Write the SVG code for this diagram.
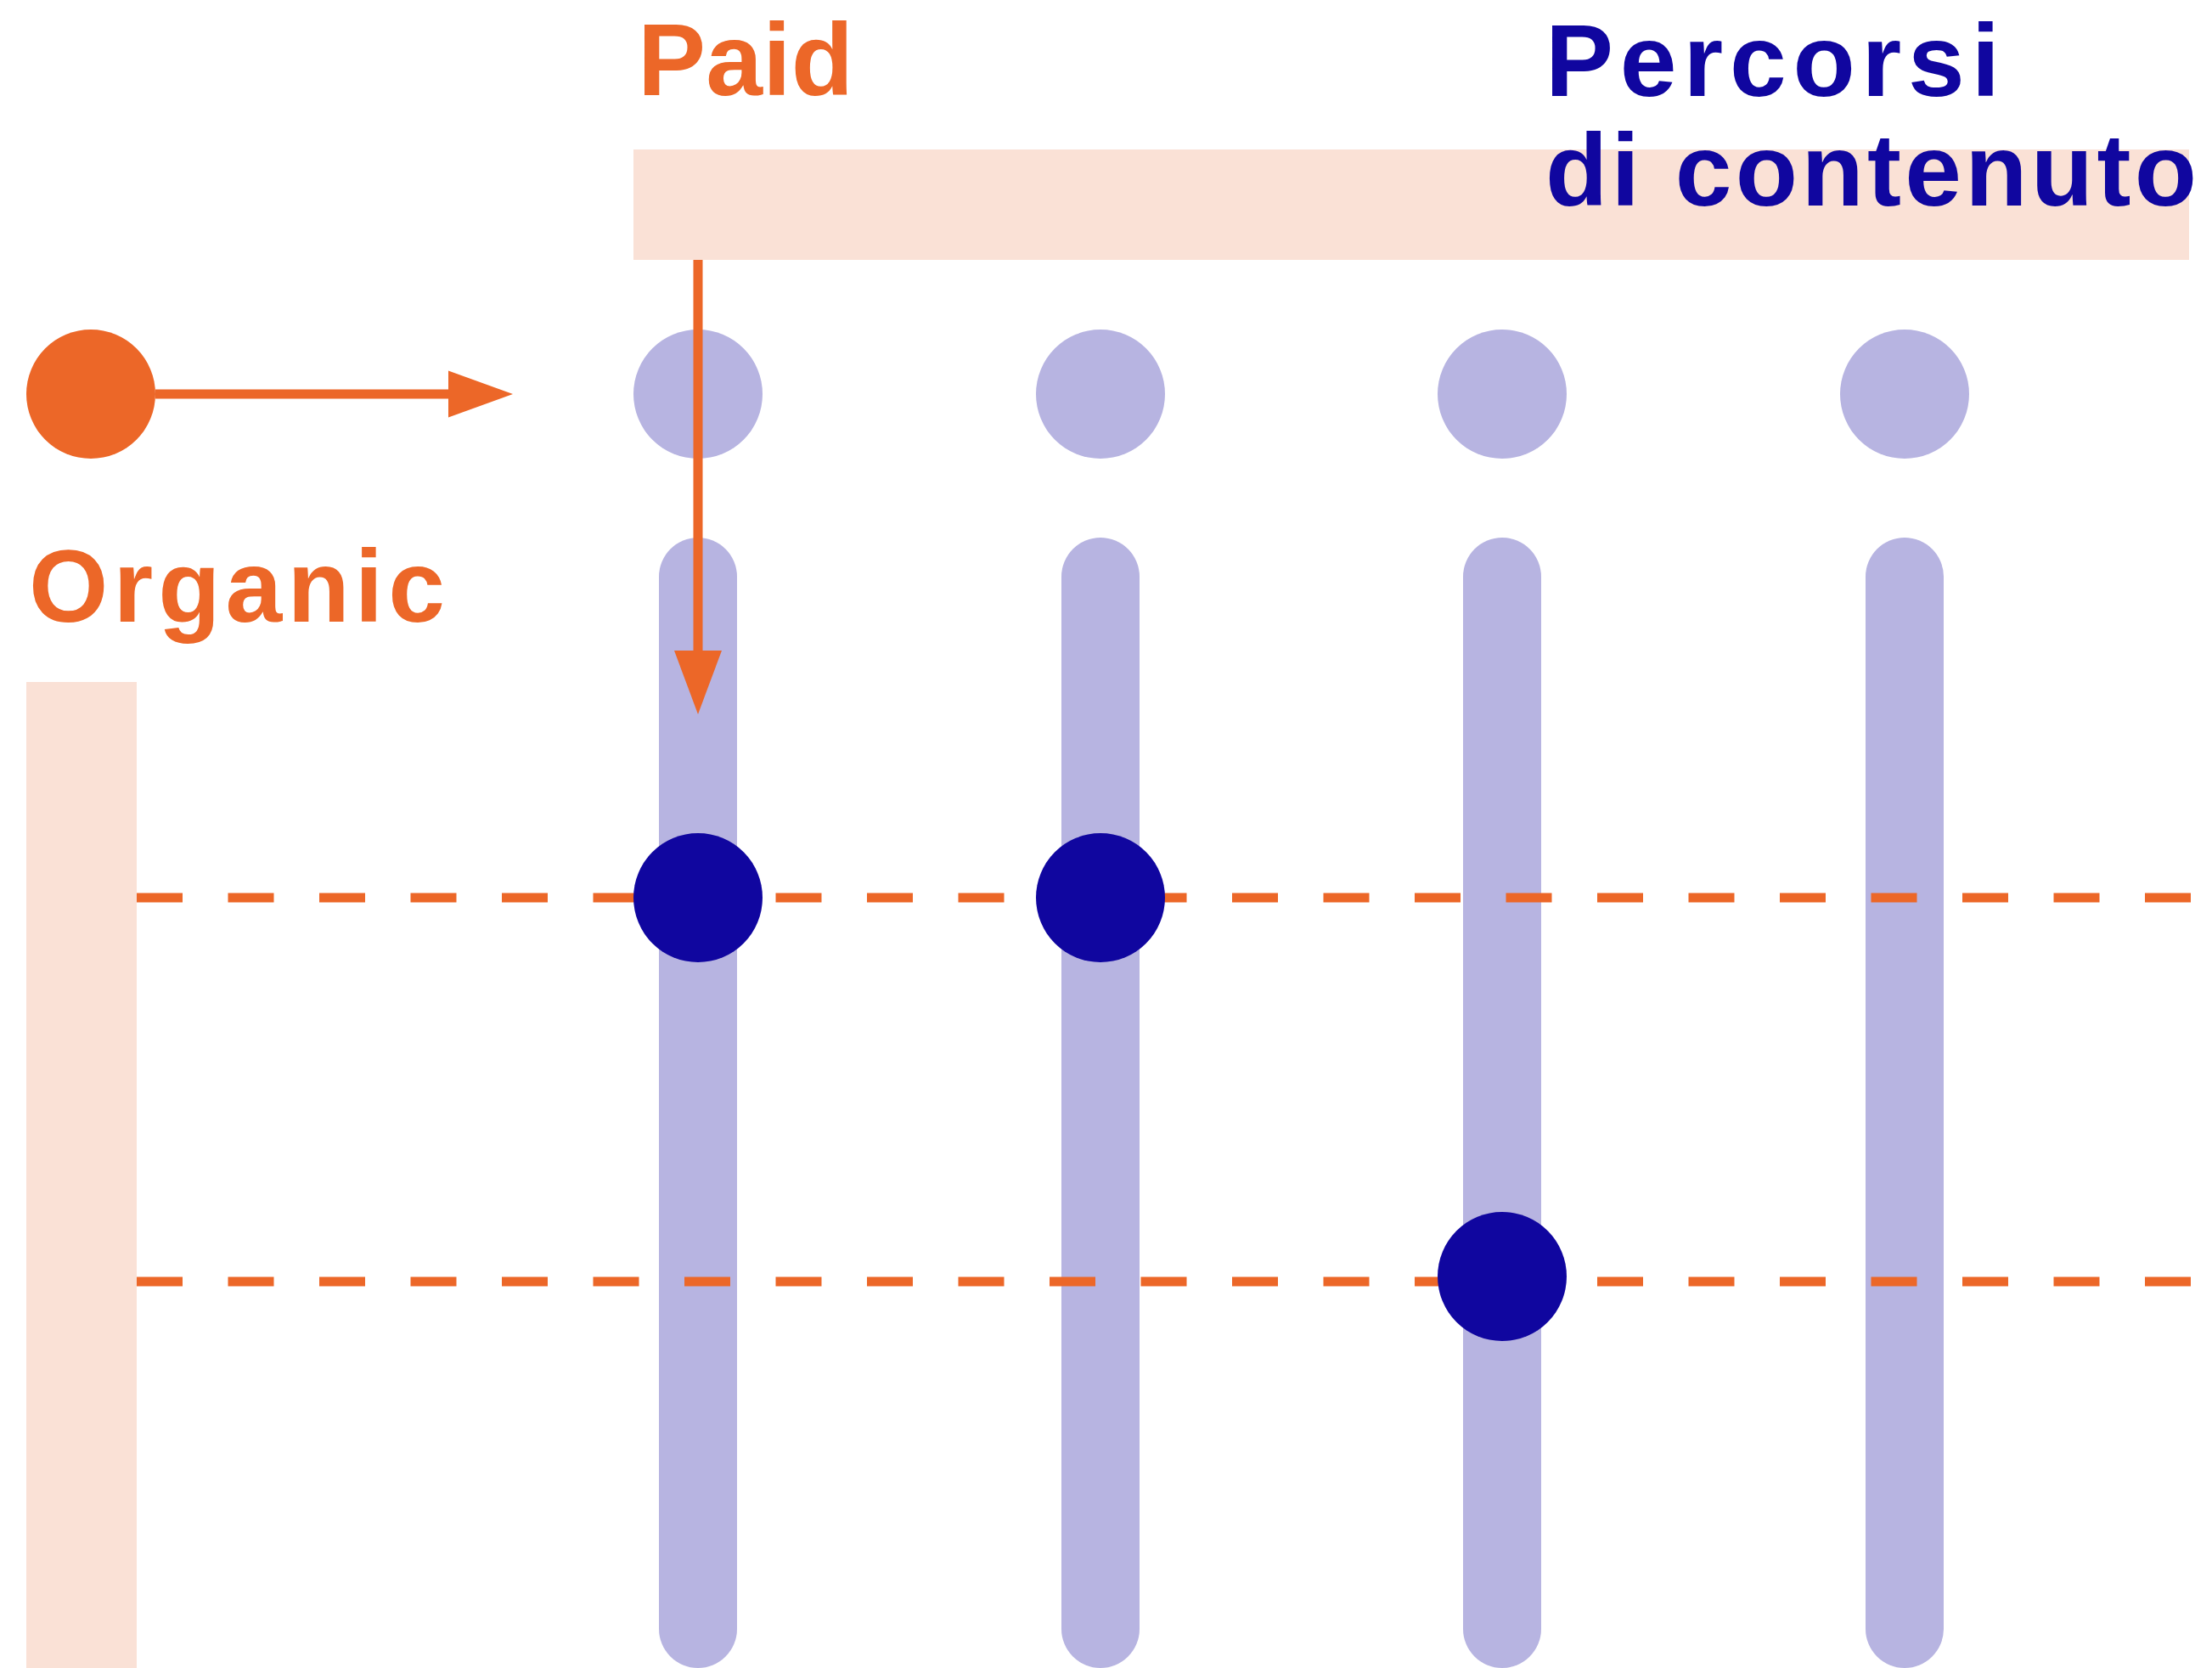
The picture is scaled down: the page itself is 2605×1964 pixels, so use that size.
<svg xmlns="http://www.w3.org/2000/svg" width="2605" height="1964" viewBox="0 0 2605 1964">
<style>
.peach{fill:#FAE1D6}
.lav{fill:#B7B4E1}
.bar{stroke:#B7B4E1;stroke-width:92;stroke-linecap:round;fill:none}
.dark{fill:#10069F}
.org{fill:#EC6728}
.dash{stroke:#EC6728;stroke-width:11;stroke-dasharray:54 53.5;fill:none}
.arr{stroke:#EC6728;stroke-width:11;fill:none}
.lbl{font-family:"Liberation Sans",Arial,sans-serif;font-weight:bold;font-size:120px}
</style>
<rect width="2605" height="1964" fill="#fff"/>
<g id="paid-band"><rect class="peach" x="746" y="176" width="1832" height="130"/></g>
<g id="organic-band"><rect class="peach" x="31" y="803" width="130" height="1170"/></g>
<g id="tracks">
<line class="bar" x1="822" y1="679" x2="822" y2="1918"/>
<line class="bar" x1="1296" y1="679" x2="1296" y2="1918"/>
<line class="bar" x1="1769" y1="679" x2="1769" y2="1918"/>
<line class="bar" x1="2243" y1="679" x2="2243" y2="1918"/>
</g>
<g id="top-nodes">
<circle class="lav" cx="822" cy="464" r="76"/>
<circle class="lav" cx="1296" cy="464" r="76"/>
<circle class="lav" cx="1769" cy="464" r="76"/>
<circle class="lav" cx="2243" cy="464" r="76"/>
</g>
<g id="connectors">
<line class="dash" x1="161" y1="1057" x2="2580" y2="1057"/>
<line class="dash" x1="161" y1="1509" x2="2580" y2="1509"/>
<line class="arr" x1="183" y1="464" x2="530" y2="464"/>
<polygon class="org" points="528,436.5 604,464 528,491.5"/>
<line class="arr" x1="822" y1="306" x2="822" y2="768"/>
<polygon class="org" points="794,766 850,766 822,841"/>
</g>
<g id="start-node"><circle class="org" cx="107" cy="464" r="76"/></g>
<g id="hit-nodes">
<circle class="dark" cx="822" cy="1057" r="76"/>
<circle class="dark" cx="1296" cy="1057" r="76"/>
<circle class="dark" cx="1769" cy="1503" r="76"/>
</g>
<g id="labels">
<text class="lbl" x="751" y="112" fill="#EC6728" textLength="254" lengthAdjust="spacing">Paid</text>
<text class="lbl" x="34" y="732" fill="#EC6728" textLength="490" lengthAdjust="spacing">Organic</text>
<text class="lbl" x="1820" y="113" fill="#10069F" textLength="535" lengthAdjust="spacing">Percorsi</text>
<text class="lbl" x="1820" y="242" fill="#10069F" textLength="767" lengthAdjust="spacing">di contenuto</text>
</g>
</svg>
